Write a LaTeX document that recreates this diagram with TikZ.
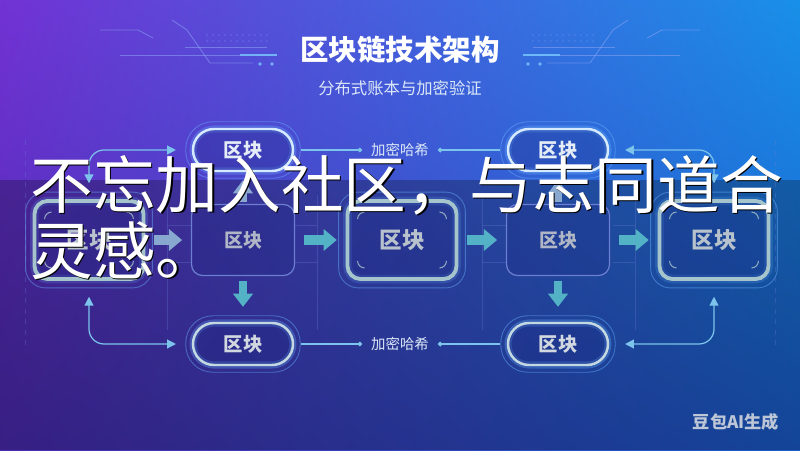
\documentclass[tikz,border=0pt]{standalone}
\usepackage{fontspec}
\setmainfont{Noto Sans CJK SC}
\usetikzlibrary{arrows.meta,calc,positioning,shadings}

\definecolor{bgTL}{HTML}{7232D4}
\definecolor{bgTR}{HTML}{1890E8}
\definecolor{bgBL}{HTML}{4A2AB0}
\definecolor{bgBR}{HTML}{1A5CCC}
\definecolor{linkc}{HTML}{7CC4EC}
\definecolor{flowc}{HTML}{54B2C6}
\definecolor{flowg}{HTML}{88A8D0}
\definecolor{pilltop}{HTML}{D6EAFF}
\definecolor{pillbot}{HTML}{C4D8E2}
\definecolor{pilltext}{HTML}{E4ECF8}
\definecolor{pillbottext}{HTML}{D2D8E0}
\definecolor{bigedge}{HTML}{A6C4CC}
\definecolor{bigtext}{HTML}{B8C2CC}
\definecolor{plainedge}{HTML}{6C7ED2}
\definecolor{plaintext}{HTML}{B0B6C6}
\definecolor{boxfill}{HTML}{1C2680}
\definecolor{glowc}{HTML}{6AB4FF}
\definecolor{decoc}{HTML}{8EA4F4}
\definecolor{barc}{HTML}{7CCBFF}
\definecolor{labelc}{HTML}{DCE8F8}
\definecolor{wmc}{HTML}{BCC6D6}

\begin{document}
\begin{tikzpicture}[x=0.02cm,y=-0.02cm,
  pill/.style={draw=#1, line width=1.4pt, rounded corners=0.42cm,
    minimum width=2cm, minimum height=0.84cm, fill=boxfill, fill opacity=0.3,
    text opacity=1, font=\bfseries\fontsize{11}{11}\selectfont,
    preaction={draw=glowc, line width=4pt, draw opacity=0.3}},
  bigblock/.style={draw=bigedge, line width=2.2pt, rounded corners=0.26cm,
    minimum width=2.18cm, minimum height=1.56cm, fill=boxfill, fill opacity=0.3,
    text opacity=1, text=bigtext, font=\bfseries\fontsize{12.8}{12.8}\selectfont,
    preaction={draw=glowc, line width=5pt, draw opacity=0.18}},
  plainblock/.style={draw=plainedge, line width=0.7pt, rounded corners=0.22cm,
    minimum width=2.06cm, minimum height=1.42cm, fill=boxfill, fill opacity=0.25,
    text opacity=1, text=plaintext, font=\bfseries\fontsize{10.8}{10.8}\selectfont},
  ring/.style={draw=glowc, line width=0.5pt, draw opacity=0.45},
  cornermark/.style={draw=bigedge, line width=0.6pt, draw opacity=0.8},
  flow/.style={draw=#1, line width=5.2pt, -{Triangle[width=12pt,length=7.5pt]},
    shorten <=5pt, shorten >=5pt},
  flow/.default=flowc,
  upflow/.style={flow=#1, line width=4.5pt, -{Triangle[width=11pt,length=7.5pt]}},
  upflow/.default=flowc,
  link/.style={draw=linkc, line width=0.7pt, >={Triangle[width=5pt,length=5pt]}, <->,
    rounded corners=0.3cm, shorten <=9pt, shorten >=9pt},
  hashline/.style={draw=linkc, line width=0.6pt, -{Circle[length=2.6pt]},
    shorten <=4pt, shorten >=3pt},
  hashlabel/.style={text=labelc, inner sep=2pt, font=\fontsize{8.2}{8.2}\selectfont},
  deco/.style={draw=decoc, line width=0.5pt, draw opacity=0.55},
  faint/.style={draw=plainedge, line width=0.4pt, draw opacity=0.3},
  ovtext/.style={inner sep=0pt, anchor=base west, font=\fontsize{35.7}{37.4}\selectfont}
]
\useasboundingbox (0,0) rectangle (800,450);
% background and dark band
\shade[upper left=bgTL, upper right=bgTR, lower left=bgBL, lower right=bgBR]
  (0,0) rectangle (800,450);
\fill[black, opacity=0.25] (0,180) rectangle (800,450);

% circuit lines beside the title
\foreach \s in {1,-1} {
\begin{scope}[shift={(400,0)}, xscale=\s]
  \draw[deco] (-300,30) -- (-262,30) -- (-247,38);
  \draw[deco] (-228,20) -- (-213,30) -- (-190,63) -- (-147,63);
  \draw[deco] (-215,47) -- (-133,47);
  \draw[deco] (-280,55) -- (-160,55);
  \draw[draw=barc, line width=1.6pt, opacity=0.8] (-160,55) -- (-123,55);
  \fill[barc, opacity=0.8] (-140,64) circle[radius=1.8] (-128,64) circle[radius=1.8];
  \foreach \x in {-193,-187,...,-133}
    \fill[decoc, opacity=0.35] (\x,35) circle[radius=0.8] (\x,41) circle[radius=0.8];
\end{scope}
}
\draw[faint, dashed] (25,140) -- (25,345);
\draw[faint, dashed] (775,140) -- (775,345);
\foreach \l/\r in {167/317, 482/635} {
  \draw[faint] (\l,195) -- (\l,330);
  \draw[faint] (\r,195) -- (\r,330);
  \foreach \y in {225,262} {
    \draw[faint] (\l,\y) -- ++(24,0);
    \draw[faint] (\r,\y) -- ++(-22,0);
  }
}

% title
\node[text=white, font=\bfseries\fontsize{16.2}{16.2}\selectfont] (title) at (400,50) {区块链技术架构};
\node[text=labelc, font=\fontsize{9.3}{9.3}\selectfont] (subtitle) at (400,88) {分布式账本与加密验证};

% blocks
\node[pill=pilltop, text=pilltext] (pt1) at (243,150) {区块};
\node[pill=pilltop, text=pilltext] (pt2) at (558,150) {区块};
\node[pill=pillbot, text=pillbottext] (pb1) at (243,344) {区块};
\node[pill=pillbot, text=pillbottext] (pb2) at (558,344) {区块};
\node[bigblock] (b1) at (89,240) {区块};
\node[plainblock] (b2) at (243,240) {区块};
\node[bigblock] (b3) at (402,240) {区块};
\node[plainblock] (b4) at (558,240) {区块};
\node[bigblock] (b5) at (714,240) {区块};

\foreach \p in {pt1,pt2,pb1,pb2}
  \draw[ring, rounded corners=0.54cm] ($(\p.north west)+(-6,-6)$) rectangle ($(\p.south east)+(6,6)$);
\foreach \b in {b1,b3,b5} {
  \draw[ring, rounded corners=0.4cm] ($(\b.north west)+(-7,-7)$) rectangle ($(\b.south east)+(7,7)$);
  \draw[cornermark] ($(\b.north west)+(12,20)$) arc[start angle=180, end angle=270, radius=7];
  \draw[cornermark] ($(\b.north east)+(-19,13)$) arc[start angle=270, end angle=360, radius=7];
  \draw[cornermark] ($(\b.south east)+(-12,-20)$) arc[start angle=0, end angle=90, radius=7];
  \draw[cornermark] ($(\b.south west)+(19,-13)$) arc[start angle=90, end angle=180, radius=7];
}

% chain arrows
\draw[flow=flowg] (b1.east) -- (b2.west);
\draw[flow] (b2.east) -- (b3.west);
\draw[flow] (b3.east) -- (b4.west);
\draw[flow] (b4.east) -- (b5.west);
\draw[upflow=flowg, shorten <=1pt, shorten >=4.5pt] (b2.north) -- (pt1.south);
\draw[upflow=flowg, shorten <=1pt, shorten >=4.5pt] (b4.north) -- (pt2.south);
\draw[upflow, shorten <=2.5pt, shorten >=8.5pt] (b2.south) -- (pb1.north);
\draw[upflow, shorten <=2.5pt, shorten >=8.5pt] (b4.south) -- (pb2.north);

% side links
\draw[link] (pt1.west) -| (b1.north);
\draw[link] (pb1.west) -| (b1.south);
\draw[link] (pt2.east) -| (b5.north);
\draw[link] (pb2.east) -| (b5.south);

% hash labels
\node[hashlabel] (h1) at (400,150) {加密哈希};
\node[hashlabel] (h2) at (400,344) {加密哈希};
\draw[hashline] (pt1.east) -- (h1.west);
\draw[hashline] (pt2.west) -- (h1.east);
\draw[hashline] (pb1.east) -- (h2.west);
\draw[hashline] (pb2.west) -- (h2.east);

\node[text=wmc, font=\bfseries\fontsize{9.8}{9.8}\selectfont] (wm) at (736,422) {豆包AI生成};

% overlay caption
\foreach \d/\c in {1.4/black,0/white} {
  \node[ovtext, text=\c] (ovA\c) at (30+\d,208+\d) {不忘加入社区，与志同道合};
  \node[ovtext, text=\c] (ovB\c) at (30+\d,274+\d) {灵感。};
}
\end{tikzpicture}
\end{document}
